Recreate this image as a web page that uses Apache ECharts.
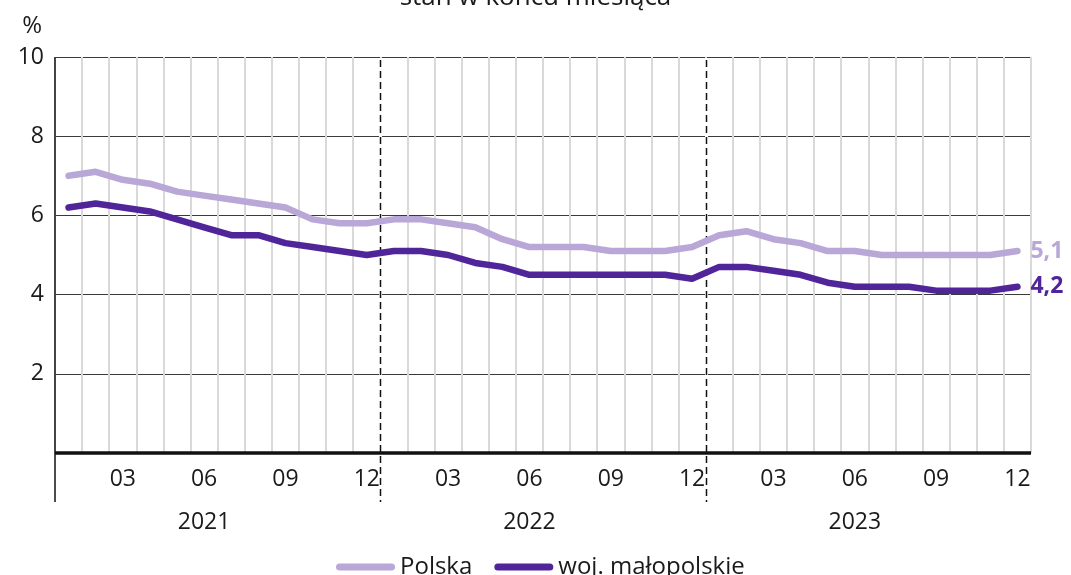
<!DOCTYPE html>
<html>
<head>
<meta charset="utf-8">
<script src="https://cdn.jsdelivr.net/npm/echarts@6/dist/echarts.min.js"></script>
<style>
html,body{margin:0;padding:0;background:#fff;}
#c{width:1071px;height:575px;}
</style>
</head>
<body>
<div id="c"></div>
<script>
const categories = [
  '2021-01','2021-02','2021-03','2021-04','2021-05','2021-06','2021-07','2021-08','2021-09','2021-10','2021-11','2021-12',
  '2022-01','2022-02','2022-03','2022-04','2022-05','2022-06','2022-07','2022-08','2022-09','2022-10','2022-11','2022-12',
  '2023-01','2023-02','2023-03','2023-04','2023-05','2023-06','2023-07','2023-08','2023-09','2023-10','2023-11','2023-12'
];
const years = ['2021', '2022', '2023'];
const monthTicks = ['03', '06', '09', '12'];
const yTicks = [2, 4, 6, 8, 10];
const polska = [
  7.0, 7.1, 6.9, 6.8, 6.6, 6.5, 6.4, 6.3, 6.2, 5.9, 5.8, 5.8,
  5.9, 5.9, 5.8, 5.7, 5.4, 5.2, 5.2, 5.2, 5.1, 5.1, 5.1, 5.2,
  5.5, 5.6, 5.4, 5.3, 5.1, 5.1, 5.0, 5.0, 5.0, 5.0, 5.0, 5.1
];
const malopolskie = [
  6.2, 6.3, 6.2, 6.1, 5.9, 5.7, 5.5, 5.5, 5.3, 5.2, 5.1, 5.0,
  5.1, 5.1, 5.0, 4.8, 4.7, 4.5, 4.5, 4.5, 4.5, 4.5, 4.5, 4.4,
  4.7, 4.7, 4.6, 4.5, 4.3, 4.2, 4.2, 4.2, 4.1, 4.1, 4.1, 4.2
];

const FONT = '"Open Sans", "Noto Sans", sans-serif';
const TXT = '#1a1a1a';
const LIGHT = '#b9a7d7';
const DARK = '#51259a';
const fmt = v => v.toFixed(1).replace('.', ',');
const pill = 'path://M3.5,0 H55.5 A3.5,3.5 0 0 1 55.5,7 H3.5 A3.5,3.5 0 0 1 3.5,0 Z';

const chart = echarts.init(document.getElementById('c'));
const option = {
  animation: false,
  backgroundColor: '#fff',
  title: {
    text: 'stan w końcu miesiąca',
    left: 'center',
    top: -20,
    padding: [5, 0, 5, 12],
    textStyle: { fontFamily: FONT, fontSize: 26, fontWeight: 'normal', color: TXT }
  },
  grid: { left: 55, right: 40, top: 57, bottom: 122 },
  legend: {
    left: 331,
    bottom: -9,
    itemWidth: 59,
    itemHeight: 7,
    itemGap: 22,
    textStyle: { fontFamily: FONT, fontSize: 24, color: TXT },
    data: [
      { name: 'Polska', icon: pill },
      { name: 'woj. małopolskie', icon: pill }
    ]
  },
  xAxis: [
    {
      type: 'category',
      data: categories,
      boundaryGap: true,
      axisLine: { show: false },
      axisTick: { show: false },
      splitLine: { show: true, interval: 0, lineStyle: { color: '#d9d9d9', width: 2 } },
      axisLabel: {
        interval: 0,
        margin: 15,
        fontFamily: FONT, fontSize: 23, color: TXT,
        formatter: v => { const m = v.slice(5); return monthTicks.includes(m) ? m : ''; }
      }
    },
    {
      type: 'category',
      data: categories,
      position: 'bottom',
      offset: 50,
      axisLine: { show: false },
      axisTick: { show: false },
      splitLine: { show: false },
      axisLabel: {
        interval: 0,
        fontFamily: FONT, fontSize: 23, color: TXT,
        formatter: (v, i) => (i % 12 === 5 ? years[Math.floor(i / 12)] : '')
      }
    }
  ],
  yAxis: {
    type: 'value',
    min: 0, max: 10, interval: 2,
    axisLine: { show: false },
    axisTick: { show: false },
    splitLine: { show: true, lineStyle: { color: '#3a3a3a', width: 1 } },
    axisLabel: {
      margin: 11,
      fontFamily: FONT, fontSize: 23, color: TXT,
      formatter: v => (yTicks.includes(v) ? String(v) : '')
    },
    name: '%',
    nameLocation: 'end',
    nameGap: 19,
    nameTextStyle: { fontFamily: FONT, fontSize: 24, color: TXT, align: 'right', padding: [0, 13, 0, 0] }
  },
  series: [
    {
      name: 'Polska',
      type: 'line',
      data: polska,
      showSymbol: false,
      symbol: 'none',
      z: 3,
      itemStyle: { color: LIGHT },
      lineStyle: { color: LIGHT, width: 6.5, cap: 'round', join: 'round' },
      endLabel: {
        show: true, distance: 13,
        formatter: p => fmt(p.value),
        fontFamily: FONT, fontSize: 23, fontWeight: 'bold', color: LIGHT
      }
    },
    {
      name: 'woj. małopolskie',
      type: 'line',
      data: malopolskie,
      showSymbol: false,
      symbol: 'none',
      z: 4,
      itemStyle: { color: DARK },
      lineStyle: { color: DARK, width: 6.5, cap: 'round', join: 'round' },
      endLabel: {
        show: true, distance: 13,
        formatter: p => fmt(p.value),
        fontFamily: FONT, fontSize: 23, fontWeight: 'bold', color: DARK
      }
    }
  ]
};
chart.setOption(option);

// decorations derived from the axes
const px = (i, v) => chart.convertToPixel({ xAxisIndex: 0, yAxisIndex: 0 }, [i, v]);
const c0 = px(0, 0)[0], c1 = px(1, 0)[0];
const bw = c1 - c0;
const leftX = c0 - bw / 2;
const rightX = leftX + categories.length * bw;
const yTop = px(0, 10)[1];
const yZero = px(0, 0)[1];
const ext = 49;
const elements = [];
[12, 24].forEach(k => {
  const x = Math.round(leftX + k * bw) + 0.5;
  elements.push({ type: 'line', z: 1, silent: true,
    shape: { x1: x, y1: yTop + 1, x2: x, y2: yZero },
    style: { stroke: '#fff', lineWidth: 3 } });
  elements.push({ type: 'line', z: 2, silent: true,
    shape: { x1: x, y1: yTop + 3, x2: x, y2: yZero + ext },
    style: { stroke: '#111', lineWidth: 1.5, lineDash: [7, 4] } });
});
elements.push({ type: 'line', z: 5, silent: true,
  shape: { x1: leftX, y1: yTop, x2: leftX, y2: yZero + ext },
  style: { stroke: '#111', lineWidth: 1.5 } });
elements.push({ type: 'line', z: 5, silent: true,
  shape: { x1: leftX, y1: yZero, x2: rightX, y2: yZero },
  style: { stroke: '#111', lineWidth: 3.5 } });
chart.setOption({ graphic: { elements } });
</script>
</body>
</html>
